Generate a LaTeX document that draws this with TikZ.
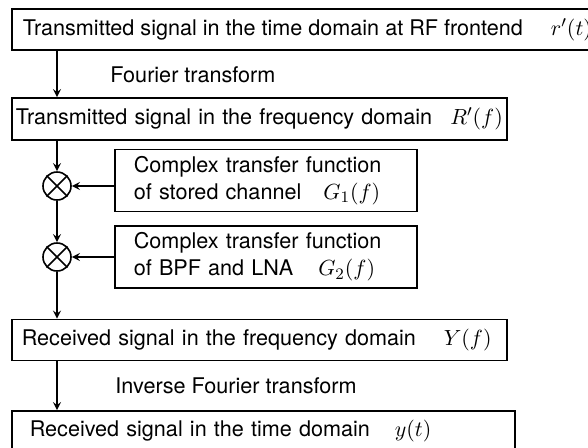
\documentclass[tikz,border=0pt]{standalone}
\usepackage{fontspec}
\setmainfont{TeX Gyre Heros}
\usepackage{amsmath}

\begin{document}
\begin{tikzpicture}[x=0.5pt, y=-0.5pt, thick, font=\fontsize{10.8}{13.5}\selectfont,
		sigbox/.style={draw, anchor=west, minimum height=20.5pt, align=left},
		gbox/.style={draw, anchor=west, text width=132pt, minimum height=27pt, inner xsep=9.5pt, align=left},
		mult/.style={draw, circle, minimum size=14pt, inner sep=0pt}]
				\useasboundingbox (0,0) rectangle (588,447);
				\clip (0,0) rectangle (588,447);
				\node[sigbox, inner xsep=5.5pt] (Tt)at(11, 29.5) {Transmitted signal in the time domain at RF frontend\hspace{14pt}$r'(t)$};
				\node[sigbox, text width=243.5pt, inner xsep=2pt, minimum height=21pt] (Tf)at(11, 119) {Transmitted signal in the frequency domain\hfill$R'(f)$};
				\node[gbox] (G1)at(114, 180.5) {Complex transfer function\\of stored channel\hspace{11pt}$G_1(f)$};
				\node[gbox] (G2)at(114, 257) {Complex transfer function\\of BPF and LNA\hspace{12.5pt}$G_2(f)$};
				\node[mult] (M1)at(57, 186) {};
				\node[mult] (M2)at(57, 257) {};
				\node[sigbox, text width=237.5pt, inner xsep=5pt] (Yf)at(11, 340) {Received signal in the frequency domain\hspace{14pt}$Y(f)$};
				\node[sigbox, text width=233.5pt, inner xsep=9pt] (yt)at(11, 431.5) {Received signal in the time domain\hspace{12.5pt}$y(t)$};
				\node[anchor=west] (FT)at(103, 75) {Fourier transform};
				\node[anchor=west] (IFT)at(108, 386) {Inverse Fourier transform};
				\draw (M1.north west) -- (M1.south east) (M1.north east) -- (M1.south west);
				\draw (M2.north west) -- (M2.south east) (M2.north east) -- (M2.south west);
				\draw[->, >=stealth] (M1 |- Tt.south) -- (M1 |- Tf.north);
				\draw[->, >=stealth] (M1 |- Tf.south) -- (M1);
				\draw[->, >=stealth] (M1) -- (M2);
				\draw[->, >=stealth] (M2) -- (M2 |- Yf.north);
				\draw[->, >=stealth] (M2 |- Yf.south) -- (M2 |- yt.north);
				\draw[->, >=stealth] (G1.west |- M1) -- (M1);
				\draw[->, >=stealth] (G2.west |- M2) -- (M2);
			\end{tikzpicture}
\end{document}
